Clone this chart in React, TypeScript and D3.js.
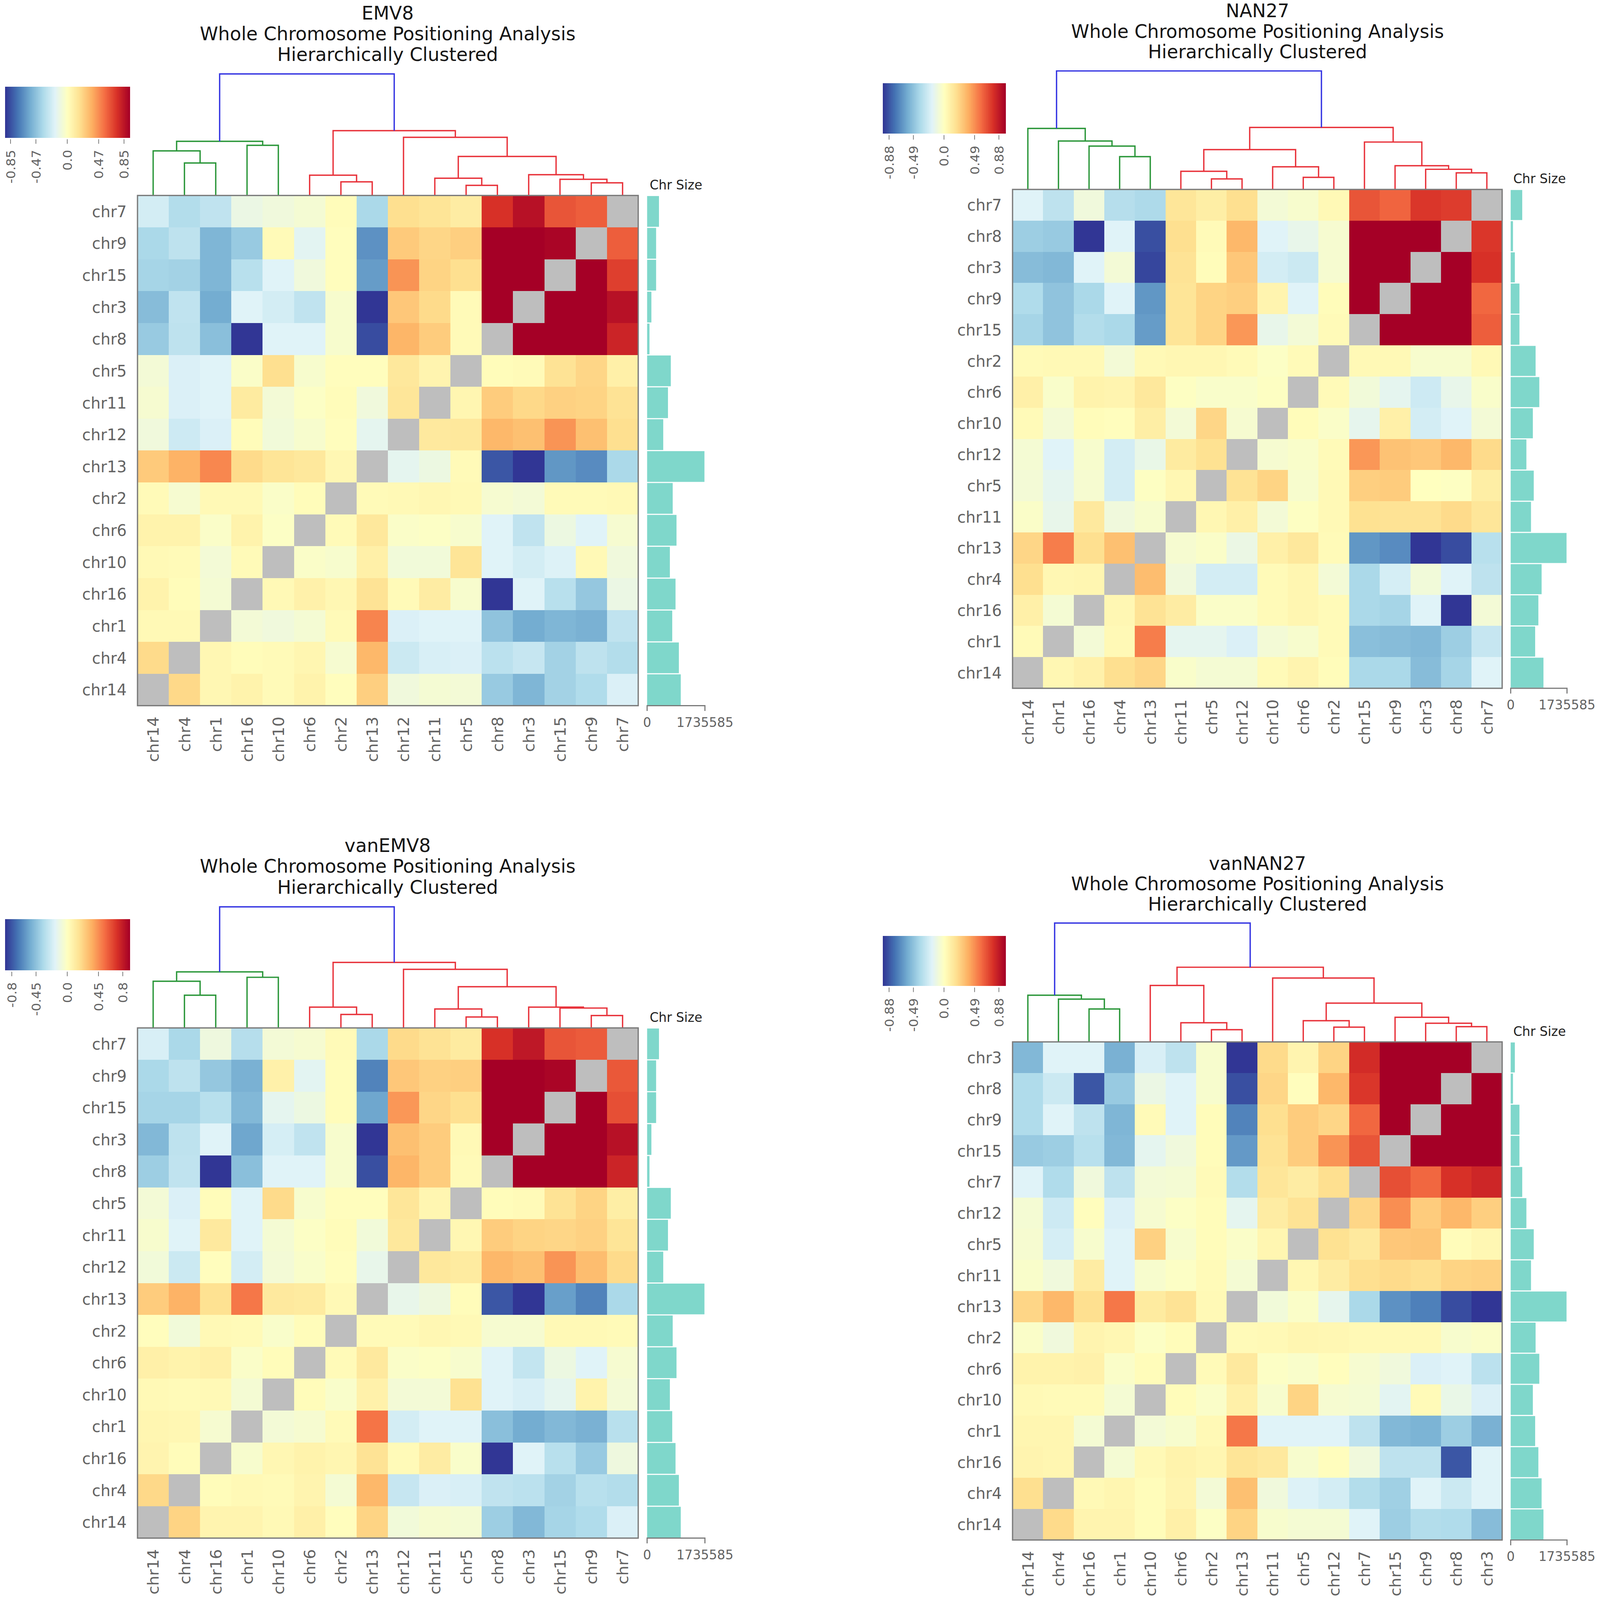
import React from "react";
import * as d3 from "d3";

const paletteStops = ["#313695","#4575b4","#74add1","#abd9e9","#e0f3f8","#ffffbf","#fee090","#fdae61","#f46d43","#d73027","#a50026"];
const chrNames = ["chr1","chr2","chr3","chr4","chr5","chr6","chr7","chr8","chr9","chr10","chr11","chr12","chr13","chr14","chr15","chr16"];
const chrSizes = [754000,768000,128000,953000,711000,882000,356000,71000,270000,683000,626000,484000,1721000,1010000,270000,853000];
const maxSize = 1735585;

const colsA = ["chr14","chr4","chr1","chr16","chr10","chr6","chr2","chr13","chr12","chr11","chr5","chr8","chr3","chr15","chr9","chr7"];
const rowsA = ["chr7","chr9","chr15","chr3","chr8","chr5","chr11","chr12","chr13","chr2","chr6","chr10","chr16","chr1","chr4","chr14"];
const valuesA: (number|null)[][] = [
[-.25,-.37,-.32,-.13,-.1,-.07,.02,-.4,.2,.17,.12,.8,.93,.68,.65,null],
[-.4,-.33,-.56,-.47,.03,-.18,.01,-.7,.29,.24,.27,1,1,.98,null,.65],
[-.42,-.43,-.56,-.35,-.2,-.1,.01,-.66,.48,.25,.2,1,1,null,1,.75],
[-.53,-.32,-.6,-.2,-.25,-.32,-.05,-1,.3,.22,.03,1,null,1,1,.93],
[-.47,-.33,-.52,-1,-.2,-.2,-.05,-.93,.37,.28,.03,null,1,1,1,.85],
[-.08,-.22,-.2,-.03,.2,-.05,.01,.01,.15,.07,null,.02,.03,.18,.24,.1],
[-.06,-.22,-.2,.13,-.08,-.02,.02,-.1,.16,null,.06,.28,.23,.26,.25,.18],
[-.1,-.27,-.22,.02,-.09,-.05,.01,-.17,null,.14,.15,.36,.33,.48,.33,.2],
[.29,.38,.52,.22,.17,.15,.05,null,-.17,-.12,.03,-.9,-1,-.68,-.72,-.4],
[.03,-.06,.04,.04,-.03,.02,null,.03,.04,.05,.04,-.06,-.08,.03,.03,.04],
[.08,.08,-.03,.08,-.02,null,.03,.15,-.03,-.02,-.05,-.2,-.32,-.12,-.2,-.06],
[.04,.03,-.08,.03,null,-.03,-.05,.1,-.09,-.09,.17,-.2,-.25,-.21,.04,-.1],
[.08,.02,-.07,null,.04,.09,.05,.18,.03,.12,-.05,-1,-.2,-.35,-.48,-.13],
[.04,.04,null,-.08,-.1,-.07,.03,.53,-.22,-.2,-.2,-.5,-.6,-.56,-.58,-.32],
[.22,null,.05,.02,.03,.06,-.06,.36,-.28,-.23,-.22,-.34,-.3,-.43,-.33,-.37],
[null,.23,.05,.08,.03,.08,.01,.27,-.1,-.07,-.08,-.47,-.56,-.43,-.38,-.22],
];
const mergesA: [number,number,number][] = [[1,2,.267],[0,16,.367],[3,4,.4125],[17,18,.446],[6,7,.1125],[5,20,.167],[10,11,.083],[9,22,.142],[14,15,.104],[13,24,.133],[12,25,.171],[23,26,.321],[8,27,.479],[21,28,.533],[19,29,1]];
const ticksA = [-0.85,-0.47,0,0.47,0.85];

const colsB = ["chr14","chr1","chr16","chr4","chr13","chr11","chr5","chr12","chr10","chr6","chr2","chr15","chr9","chr3","chr8","chr7"];
const rowsB = ["chr7","chr8","chr3","chr9","chr15","chr2","chr6","chr10","chr12","chr5","chr11","chr13","chr4","chr16","chr1","chr14"];
const valuesB: (number|null)[][] = [
[-.2,-.33,-.1,-.36,-.39,.16,.11,.2,-.08,-.05,.04,.68,.63,.78,.76,null],
[-.45,-.47,-1,-.2,-.92,.2,.03,.36,-.2,-.15,-.06,1,1,1,null,.78],
[-.53,-.55,-.2,-.08,-.95,.18,.02,.3,-.25,-.28,-.06,1,1,null,1,.8],
[-.38,-.5,-.4,-.2,-.68,.17,.25,.27,.07,-.2,.02,1,null,1,1,.62],
[-.42,-.5,-.37,-.4,-.66,.17,.25,.47,-.15,-.08,.03,null,1,1,1,.65],
[.03,.04,.04,-.08,.04,.05,.05,.03,-.02,.03,null,.04,.04,-.05,-.05,.04],
[.1,-.04,.08,.07,.15,-.01,-.04,-.04,-.01,null,.03,-.09,-.17,-.27,-.15,-.04],
[.03,-.08,.02,.01,.11,-.08,.24,-.06,null,.02,-.03,-.16,.1,-.25,-.2,-.08],
[-.07,-.2,-.05,-.25,-.14,.13,.19,null,-.06,-.04,.03,.47,.32,.3,.36,.22],
[-.08,-.17,-.06,-.25,-.01,.05,null,.18,.25,-.05,.04,.27,.28,.0,-.01,.11],
[-.03,-.15,.14,-.1,-.05,null,.05,.1,-.08,-.01,.04,.19,.18,.18,.22,.16],
[.24,.55,.2,.33,null,-.06,-.03,-.13,.1,.15,.03,-.68,-.72,-1,-.93,-.35],
[.2,.05,.06,null,.34,-.1,-.25,-.25,.03,.06,-.08,-.4,-.24,-.09,-.2,-.33],
[.1,-.07,null,.05,.18,.12,-.03,-.03,.03,.06,.03,-.4,-.42,-.2,-1,-.08],
[.03,null,-.08,.04,.55,-.17,-.17,-.22,-.08,-.05,.03,-.52,-.53,-.55,-.45,-.3],
[null,.05,.09,.2,.24,-.04,-.07,-.07,.03,.07,.02,-.4,-.4,-.53,-.42,-.2],
];
const mergesB: [number,number,number][] = [[3,4,.277],[2,16,.366],[1,17,.409],[0,18,.515],[6,7,.089],[5,20,.153],[9,10,.102],[8,22,.191],[21,23,.336],[14,15,.14],[13,25,.17],[12,26,.2],[11,27,.4],[24,28,.523],[19,29,1]];
const ticksB = [-0.88,-0.49,0,0.49,0.88];

const colsC = ["chr14","chr4","chr16","chr1","chr10","chr6","chr2","chr13","chr12","chr11","chr5","chr8","chr3","chr15","chr9","chr7"];
const rowsC = ["chr7","chr9","chr15","chr3","chr8","chr5","chr11","chr12","chr13","chr2","chr6","chr10","chr1","chr16","chr4","chr14"];
const valuesC: (number|null)[][] = [
[-.23,-.4,-.11,-.36,-.08,-.06,.03,-.4,.22,.18,.13,.8,.9,.68,.66,null],
[-.4,-.33,-.48,-.58,.09,-.18,.02,-.75,.3,.26,.27,1,1,.98,null,.67],
[-.42,-.42,-.35,-.55,-.17,-.12,.02,-.62,.47,.24,.2,1,1,null,1,.7],
[-.55,-.33,-.2,-.62,-.24,-.32,-.05,-1,.33,.28,.04,1,null,1,1,.93],
[-.45,-.32,-1,-.52,-.2,-.2,-.05,-.92,.37,.28,.03,null,1,1,1,.85],
[-.08,-.22,.02,-.2,.22,-.05,.01,.01,.16,.06,null,.02,.03,.18,.25,.11],
[-.05,-.2,.14,-.2,-.07,-.02,.02,-.09,.15,null,.05,.28,.25,.24,.26,.17],
[-.09,-.28,.01,-.25,-.08,-.04,.01,-.15,null,.15,.13,.36,.33,.48,.34,.22],
[.28,.38,.19,.57,.14,.13,.04,null,-.15,-.11,.02,-.9,-1,-.65,-.75,-.4],
[.01,-.09,.04,.03,-.04,.02,null,.03,.03,.05,.04,-.06,-.06,.04,.04,.03],
[.1,.08,.1,-.03,.02,null,.03,.14,-.03,-.02,-.05,-.2,-.31,-.12,-.2,-.06],
[.04,.03,.04,-.07,null,.02,-.04,.09,-.08,-.08,.19,-.2,-.23,-.17,.08,-.08],
[.06,.05,-.06,null,-.08,-.06,.03,.58,-.25,-.2,-.2,-.52,-.6,-.55,-.58,-.35],
[.07,.02,null,-.05,.05,.08,.06,.18,.03,.12,-.04,-1,-.2,-.35,-.47,-.11],
[.23,null,.02,.04,.03,.07,-.07,.36,-.3,-.22,-.23,-.32,-.34,-.43,-.35,-.37],
[null,.25,.07,.07,.04,.1,.01,.25,-.09,-.06,-.07,-.45,-.55,-.42,-.38,-.22],
];
const mergesC: [number,number,number][] = [[1,2,.27],[0,16,.385],[3,4,.418],[17,18,.463],[6,7,.111],[5,20,.172],[10,11,.09],[9,22,.156],[14,15,.102],[13,24,.164],[12,25,.172],[23,26,.34],[8,27,.484],[21,28,.541],[19,29,1]];
const ticksC = [-0.8,-0.45,0,0.45,0.8];

const colsD = ["chr14","chr4","chr16","chr1","chr10","chr6","chr2","chr13","chr11","chr5","chr12","chr7","chr15","chr9","chr8","chr3"];
const rowsD = ["chr3","chr8","chr9","chr15","chr7","chr12","chr5","chr11","chr13","chr2","chr6","chr10","chr1","chr16","chr4","chr14"];
const valuesD: (number|null)[][] = [
[-.55,-.2,-.2,-.58,-.23,-.33,-.05,-1,.22,.07,.25,.82,1,1,1,null],
[-.38,-.28,-.9,-.47,-.13,-.2,-.05,-.92,.24,.01,.36,.78,1,1,null,1],
[-.38,-.2,-.33,-.56,.03,-.2,.02,-.75,.2,.28,.24,.62,1,null,1,1],
[-.47,-.45,-.35,-.55,-.17,-.1,.02,-.67,.18,.28,.48,.68,null,1,1,1],
[-.2,-.38,-.1,-.33,-.08,-.07,.03,-.37,.16,.12,.2,null,.7,.62,.8,.84],
[-.07,-.27,.01,-.22,-.06,-.02,.02,-.17,.12,.18,null,.24,.5,.28,.36,.27],
[-.06,-.24,-.05,-.2,.26,-.05,.02,-.03,.06,null,.19,.14,.3,.31,.02,.05],
[-.04,-.1,.12,-.2,-.05,-.02,.03,-.07,null,.05,.12,.2,.22,.2,.25,.26],
[.24,.36,.2,.57,.13,.18,.04,null,-.09,-.03,-.16,-.4,-.7,-.76,-.93,-1],
[-.03,-.1,.07,.05,-.02,.02,null,.03,.04,.06,.05,.04,.04,.04,-.05,-.03],
[.08,.08,.09,-.03,.02,null,.03,.14,-.02,-.04,.01,-.06,-.1,-.22,-.2,-.34],
[.04,.03,.03,-.07,null,.02,-.03,.1,-.05,.25,-.06,-.07,-.18,.03,-.14,-.22],
[.06,.06,-.07,null,-.08,-.05,.04,.57,-.2,-.2,-.2,-.33,-.55,-.57,-.45,-.58],
[.07,.06,null,-.07,.04,.08,.06,.17,.14,-.05,.01,-.1,-.33,-.33,-.9,-.2],
[.2,null,.04,.06,.02,.07,-.08,.33,-.1,-.21,-.25,-.37,-.44,-.2,-.28,-.2],
[null,.22,.07,.07,.02,.1,-.02,.25,-.05,-.07,-.07,-.2,-.45,-.37,-.38,-.53],
];
const mergesD: [number,number,number][] = [[2,3,.277],[1,16,.36],[0,17,.393],[6,7,.103],[5,19,.161],[4,20,.475],[10,11,.124],[9,22,.178],[14,15,.128],[13,24,.157],[12,25,.207],[23,26,.326],[8,27,.537],[21,28,.628],[18,29,1]];

const FONT = "'DejaVu Sans', sans-serif";
const GREY = "#636363";
const color = d3.scaleLinear<string>().domain(d3.range(11).map(i => -1 + i * 0.2)).range(paletteStops).interpolate(d3.interpolateRgb);

type PanelProps = {
  name: string; cols: string[]; rows: string[]; values: (number|null)[][];
  merges: [number,number,number][]; ticks: number[]; vmax: number;
  left: number; right: number; top: number; bottom: number; rootY: number;
  barX0: number; barX1: number; cbX0: number; cbX1: number; cbY0: number; cbY1: number;
  titleX: number; titleY: number; titleFont: number; lineGap: number; labelFont: number; smallFont: number;
};

function Panel(p: PanelProps) {
  const x = d3.scaleBand<string>().domain(p.cols).range([p.left, p.right]);
  const y = d3.scaleBand<string>().domain(p.rows).range([p.top, p.bottom]);
  const barScale = d3.scaleLinear().domain([0, maxSize]).range([p.barX0, p.barX1]);
  const h = d3.scaleLinear().domain([0, 1]).range([p.top, p.rootY]);
  const cb = d3.scaleLinear().domain([-1, 1]).range([p.cbX0, p.cbX1]);
  const cbTick = d3.scaleLinear().domain([-p.vmax, p.vmax]).range([p.cbX0, p.cbX1]);

  const pos: { x: number; y: number }[] = p.cols.map(c => ({ x: x(c)! + x.bandwidth() / 2, y: p.top }));
  p.merges.forEach(([a, b, v]) => pos.push({ x: (pos[a].x + pos[b].x) / 2, y: h(v) }));
  const rootIndex = pos.length - 1;
  const nodeColor: string[] = [];
  const paint = (n: number, c: string) => {
    nodeColor[n] = c;
    if (n >= p.cols.length) {
      const [a, b] = p.merges[n - p.cols.length];
      paint(a, c); paint(b, c);
    }
  };
  const [rootA, rootB] = p.merges[p.merges.length - 1];
  paint(rootA, "#2a9639"); paint(rootB, "#e8323a");
  nodeColor[rootIndex] = "#3535e2";
  const link = d3.line();

  const cbSteps = d3.range(0, 256).map(i => -1 + (2 * i) / 255);
  const tickFmt = (t: number) => (t === 0 ? "0.0" : String(t));

  return (
    <g fontFamily={FONT}>
      {[p.name, "Whole Chromosome Positioning Analysis", "Hierarchically Clustered"].map((t, i) => (
        <text key={i} x={p.titleX} y={p.titleY + i * p.lineGap} textAnchor="middle" fontSize={p.titleFont} fill="#151515">{t}</text>
      ))}

      <g shapeRendering="crispEdges">
        {cbSteps.map((t, i) => (
          <rect key={i} x={cb(t)} y={p.cbY0} width={(p.cbX1 - p.cbX0) / 255 + 1} height={p.cbY1 - p.cbY0} fill={color(t)} />
        ))}
      </g>
      {p.ticks.map((t, i) => {
        const tx = cbTick(t);
        return (
          <g key={i}>
            <line x1={tx} x2={tx} y1={p.cbY1 + 4} y2={p.cbY1 + 16} stroke="#777" strokeWidth={2} />
            <text transform={`translate(${tx},${p.cbY1 + 32}) rotate(-90)`} textAnchor="end" dy="0.36em" fontSize={p.smallFont} fill={GREY}>{tickFmt(t)}</text>
          </g>
        );
      })}

      <g fill="none" strokeWidth={3.6}>
        {p.merges.map(([a, b], i) => {
          const n = p.cols.length + i;
          return (
            <path key={i} stroke={nodeColor[n]} d={link([[pos[a].x, pos[a].y], [pos[a].x, pos[n].y], [pos[b].x, pos[n].y], [pos[b].x, pos[b].y]]) as string} />
          );
        })}
      </g>

      <g shapeRendering="crispEdges">
        {p.rows.map((r, ri) =>
          p.cols.map((c, ci) => {
            const v = p.values[ri][ci];
            return <rect key={c + r} x={x(c)} y={y(r)} width={x.bandwidth() + 0.5} height={y.bandwidth() + 0.5} fill={v === null ? "#bebebe" : color(v)} />;
          })
        )}
      </g>
      <rect x={p.left} y={p.top} width={p.right - p.left} height={p.bottom - p.top} fill="none" stroke="#7a7a7a" strokeWidth={3.4} />

      {p.rows.map(r => (
        <text key={r} x={p.left - 29} y={y(r)! + y.bandwidth() / 2} dy="0.36em" textAnchor="end" fontSize={p.labelFont} fill={GREY}>{r}</text>
      ))}
      {p.cols.map(c => (
        <text key={c} transform={`translate(${x(c)! + x.bandwidth() / 2},${p.bottom + 29}) rotate(-90)`} dy="0.36em" textAnchor="end" fontSize={p.labelFont} fill={GREY}>{c}</text>
      ))}

      <text x={p.barX0 + 7} y={p.top - 16} fontSize={p.smallFont} fill="#222">Chr Size</text>
      {p.rows.map(r => {
        const size = chrSizes[chrNames.indexOf(r)];
        return <rect key={r} x={barScale(0)} y={y(r)! + 1.5} width={barScale(size) - barScale(0)} height={y.bandwidth() - 3} fill="#7fd7cb" />;
      })}
      <path d={`M${barScale(0)},${p.bottom + 14}V${p.bottom}H${barScale(maxSize)}V${p.bottom + 14}`} fill="none" stroke="#7a7a7a" strokeWidth={3} />
      <text x={barScale(0)} y={p.bottom + 56} textAnchor="middle" fontSize={p.smallFont} fill={GREY}>0</text>
      <text x={barScale(maxSize)} y={p.bottom + 56} textAnchor="middle" fontSize={p.smallFont} fill={GREY}>{maxSize}</text>
    </g>
  );
}

const layoutLeft = { left: 371, right: 1722, barX0: 1746, barX1: 1902, cbX0: 14, cbX1: 349, titleX: 1046, titleFont: 50, lineGap: 55, labelFont: 42, smallFont: 34.5 };
const layoutRight = { left: 2732, right: 4053, barX0: 4076, barX1: 4228, cbX0: 2382, cbX1: 2712, titleX: 3393, titleFont: 49.6, lineGap: 54, labelFont: 42, smallFont: 34.5 };

export default function App() {
  return (
    <svg viewBox="0 0 4317 4240" preserveAspectRatio="none" style={{ position: "fixed", left: 0, top: 0, width: "100vw", height: "100vh", background: "#fff" }}>
      <Panel name="EMV8" cols={colsA} rows={rowsA} values={valuesA} merges={mergesA} ticks={ticksA} vmax={0.93}
        {...layoutLeft} top={518} bottom={1870} rootY={196} cbY0={230} cbY1={365} titleY={52} />
      <Panel name="NAN27" cols={colsB} rows={rowsB} values={valuesB} merges={mergesB} ticks={ticksB} vmax={0.98}
        {...layoutRight} top={502} bottom={1824} rootY={188} cbY0={221} cbY1={354} titleY={46} />
      <Panel name="vanEMV8" cols={colsC} rows={rowsC} values={valuesC} merges={mergesC} ticks={ticksC} vmax={0.895}
        {...layoutLeft} top={2724} bottom={4076} rootY={2403} cbY0={2436} cbY1={2571} titleY={2258} />
      <Panel name="vanNAN27" cols={colsD} rows={rowsD} values={valuesD} merges={mergesD} ticks={ticksB} vmax={0.98}
        {...layoutRight} top={2761} bottom={4081} rootY={2446} cbY0={2480} cbY1={2613} titleY={2305} />
    </svg>
  );
}
